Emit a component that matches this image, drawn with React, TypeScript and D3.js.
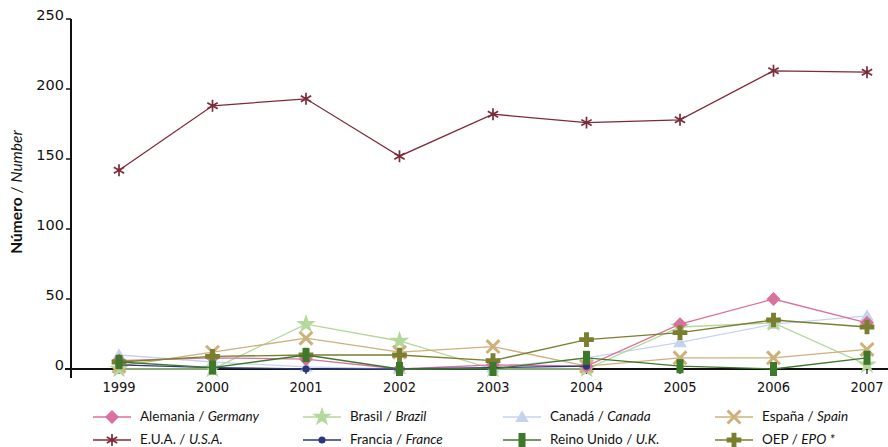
import React, { useEffect } from 'react';
import * as d3 from 'd3';

const years = ['1999', '2000', '2001', '2002', '2003', '2004', '2005', '2006', '2007'];
const yTicks = [0, 50, 100, 150, 200, 250];

const germany = [6, 8, 7, 0, 3, 2, 32, 50, 33];
const usa = [142, 188, 193, 152, 182, 176, 178, 213, 212];
const brazil = [0, 0, 32, 20, 0, 0, 30, 33, 3];
const canada = [10, 5, 1.5, 0, 1, 8, 19, 32, 38];
const spain = [2, 12, 22, 12, 16, 2, 8, 8, 14];
const france = [3, 1, 0, 0, 1, 2, null, null, null];
const uk = [5, 1, 10, 0, 0, 8, 2, 0, 8];
const epo = [5, 9, 10, 10, 6, 21, 26, 35, 30];

type Marker = 'diamond' | 'asterisk' | 'star' | 'circle' | 'triangle' | 'bar' | 'times' | 'cross';

interface Series {
  es: string;
  en: string;
  values: (number | null)[];
  color: string;
  marker: Marker;
}

const series: Series[] = [
  { es: 'Alemania', en: 'Germany', values: germany, color: '#d8719d', marker: 'diamond' },
  { es: 'E.U.A.', en: 'U.S.A.', values: usa, color: '#7c2b38', marker: 'asterisk' },
  { es: 'Brasil', en: 'Brazil', values: brazil, color: '#b4d89c', marker: 'star' },
  { es: 'Francia', en: 'France', values: france, color: '#2a3878', marker: 'circle' },
  { es: 'Canadá', en: 'Canada', values: canada, color: '#c6d3ef', marker: 'triangle' },
  { es: 'Reino Unido', en: 'U.K.', values: uk, color: '#3d782b', marker: 'bar' },
  { es: 'España', en: 'Spain', values: spain, color: '#cdb07a', marker: 'times' },
  { es: 'OEP', en: 'EPO *', values: epo, color: '#7a7f2f', marker: 'cross' },
];

// draw order: background series first
const drawOrder = [4, 2, 6, 0, 3, 7, 5, 1];

const MarkerShape: React.FC<{ type: Marker; color: string; x: number; y: number }> = ({ type, color, x, y }) => {
  const t = `translate(${x},${y})`;
  switch (type) {
    case 'diamond':
      return <path transform={t} d="M0,-7L7,0L0,7L-7,0Z" fill={color} />;
    case 'star':
      return <path transform={t} d={d3.symbol(d3.symbolStar, 120)() || ''} fill={color} />;
    case 'triangle':
      return <path transform={`${t} translate(0,1)`} d={d3.symbol(d3.symbolTriangle, 80)() || ''} fill={color} />;
    case 'circle':
      return <path transform={t} d={d3.symbol(d3.symbolCircle, 40)() || ''} fill={color} />;
    case 'cross':
      return <path transform={t} d={d3.symbol(d3.symbolCross, 120)() || ''} fill={color} />;
    case 'times':
      return <path transform={t} d={d3.symbol(d3.symbolTimes, 110)() || ''} fill="none" stroke={color} strokeWidth={3} />;
    case 'asterisk':
      return <path transform={t} d={d3.symbol(d3.symbolAsterisk, 100)() || ''} fill="none" stroke={color} strokeWidth={1.7} />;
    case 'bar':
      return <rect x={x - 3.5} y={y - 7} width={7} height={14} fill={color} />;
  }
};

export default function App() {
  useEffect(() => {
    document.body.style.margin = '0';
  }, []);

  const width = 888;
  const height = 447;

  const x = d3.scalePoint<string>().domain(years).range([119, 867]);
  const y = d3.scaleLinear().domain([0, 250]).range([369, 19]);

  const line = d3
    .line<number | null>()
    .defined((d) => d !== null)
    .x((_, i) => x(years[i]) as number)
    .y((d) => y(d as number));

  const axisColor = '#111';
  const legendCols = [93, 303, 503, 715];
  const legendRows = [417, 440];

  return (
    <svg width={width} height={height} style={{ display: 'block', background: '#fff' }}>
      {/* y axis */}
      <line x1={71} x2={71} y1={y(250)} y2={378} stroke={axisColor} strokeWidth={2} />
      {yTicks.map((t) => (
        <g key={t}>
          <line x1={66} x2={71} y1={y(t)} y2={y(t)} stroke={axisColor} strokeWidth={1.5} />
          <text x={64} y={y(t) + 1} textAnchor="end" fontFamily="DejaVu Sans" fontSize={14.5} fill="#111">
            {t}
          </text>
        </g>
      ))}
      <text
        transform="translate(22,192) rotate(-90)"
        textAnchor="middle"
        fontFamily="Lato, 'Open Sans', sans-serif"
        fontSize={15.5}
        fill="#111"
      >
        <tspan fontWeight="bold">Número</tspan>
        <tspan> / </tspan>
        <tspan fontStyle="italic">Number</tspan>
      </text>

      {/* x axis */}
      <line x1={65} x2={888} y1={y(0)} y2={y(0)} stroke={axisColor} strokeWidth={2} />
      {years.map((yr) => (
        <g key={yr}>
          <line x1={x(yr)} x2={x(yr)} y1={y(0)} y2={y(0) + 5} stroke={axisColor} strokeWidth={1.2} />
          <text
            x={x(yr)}
            y={392}
            textAnchor="middle"
            fontFamily="DejaVu Sans"
            fontSize={14.5}
            fill="#111"
            style={{ fontStretch: 'condensed' }}
          >
            {yr}
          </text>
        </g>
      ))}

      {/* series */}
      {drawOrder.map((si) => {
        const s = series[si];
        return (
          <g key={s.en}>
            <path d={line(s.values) || ''} fill="none" stroke={s.color} strokeWidth={1.3} />
            {s.values.map((v, i) =>
              v === null ? null : (
                <MarkerShape key={i} type={s.marker} color={s.color} x={x(years[i]) as number} y={y(v)} />
              )
            )}
          </g>
        );
      })}

      {/* legend */}
      {series.map((s, i) => {
        const col = Math.floor(i / 2);
        const row = i % 2;
        const lx = legendCols[col];
        const ly = legendRows[row];
        return (
          <g key={`lg-${s.en}`}>
            <line x1={lx} x2={lx + 38} y1={ly} y2={ly} stroke={s.color} strokeWidth={1.3} />
            <MarkerShape type={s.marker} color={s.color} x={lx + 19} y={ly} />
            <text x={lx + 47} y={ly + 4} fontFamily="Lato, 'Open Sans', sans-serif" fontSize={13.5} fill="#111">
              <tspan>{s.es} / </tspan>
              <tspan fontStyle="italic">{s.en}</tspan>
            </text>
          </g>
        );
      })}
    </svg>
  );
}
